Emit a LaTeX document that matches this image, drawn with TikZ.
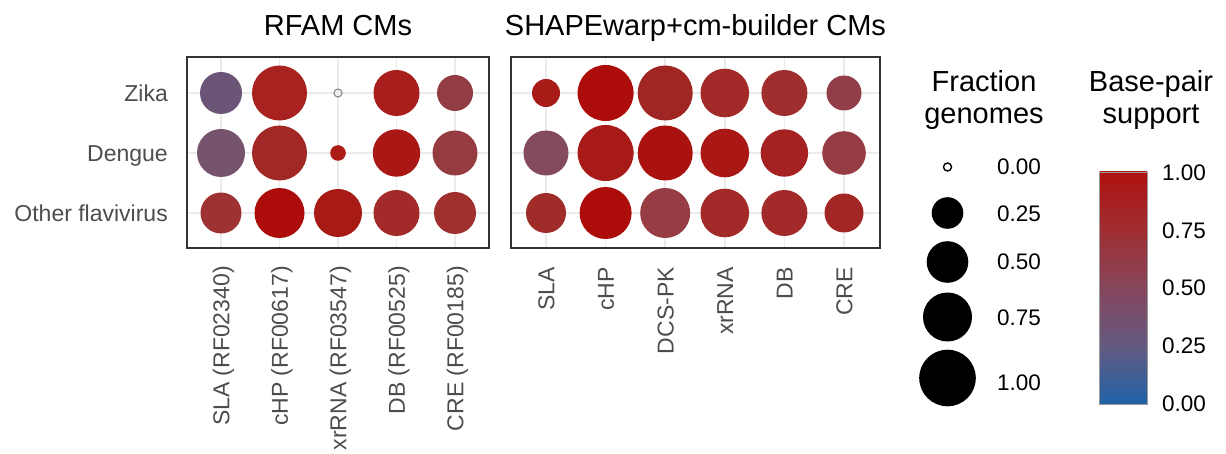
\documentclass[tikz,border=0pt]{standalone}
\usepackage{fontspec}
\setmainfont{Liberation Sans}
\definecolor{gridc}{HTML}{EBEBEB}
\definecolor{axtext}{HTML}{4D4D4D}
\definecolor{bordc}{HTML}{333333}
\definecolor{cbarb}{HTML}{9A9A9A}
\definecolor{cbz}{HTML}{1F63A8}
\definecolor{cbq}{HTML}{635A80}
\definecolor{cbh}{HTML}{86465C}
\definecolor{cbt}{HTML}{A02E32}
\definecolor{cbo}{HTML}{AE110E}
\pgfdeclareverticalshading{bpsupport}{100bp}{color(0bp)=(cbz); color(25bp)=(cbz); color(37.5bp)=(cbq); color(50bp)=(cbh); color(62.5bp)=(cbt); color(75bp)=(cbo); color(100bp)=(cbo)}
\newcommand\bubble[4]{\definecolor{bubc}{HTML}{#4}\fill[bubc] (#1,#2) circle[radius=#3pt];}
\tikzset{
  titletext/.style={font=\fontsize{29}{33}\selectfont, text=black, inner sep=0pt},
  axlab/.style={font=\fontsize{23}{27}\selectfont, text=axtext, inner sep=0pt},
  xlab/.style={axlab, rotate=90, anchor=base east},
  ylab/.style={axlab, anchor=base east},
  leglab/.style={font=\fontsize{22.5}{27}\selectfont, text=black, inner sep=0pt, anchor=base west},
  gridline/.style={draw=gridc, line width=1.6pt},
  panelborder/.style={draw=bordc, line width=1.3pt},
}
\begin{document}
\begin{tikzpicture}[x=1pt,y=-1pt]
\useasboundingbox (0,0) rectangle (1226,454);
% ---------- left panel ----------
\foreach \cx in {221,279.5,338,396.5,455} \draw[gridline] (\cx,57) -- (\cx,248);
\foreach \ry in {93,153,213} \draw[gridline] (187,\ry) -- (489,\ry);
% Zika
\bubble{221}{93}{21}{6B5577}
\bubble{279.5}{93}{27.5}{A82220}
\draw[draw=gray!90, line width=1.2pt] (338,93) circle[radius=4pt];
\bubble{396.5}{93}{23}{A81E1C}
\bubble{455}{93}{18}{923C44}
% Dengue
\bubble{221}{153}{24}{76546E}
\bubble{279.5}{153}{27.5}{A22826}
\bubble{338}{153}{7.8}{AC1B16}
\bubble{396.5}{153}{23.7}{AA1816}
\bubble{455}{153}{22.5}{953C40}
% Other
\bubble{221}{213}{20.5}{9E3232}
\bubble{279.5}{213}{25}{AC0C0A}
\bubble{338}{213}{24}{A81A16}
\bubble{396.5}{213}{23}{A22A28}
\bubble{455}{213}{21}{A0302E}
\draw[panelborder] (187,57) rectangle (489,248);
% ---------- right panel ----------
\foreach \cx in {546,605.6,665.2,724.8,784.4,844} \draw[gridline] (\cx,57) -- (\cx,248);
\foreach \ry in {93,153,213} \draw[gridline] (511,\ry) -- (880,\ry);
% Zika
\bubble{546}{93}{14}{A81C18}
\bubble{605.6}{93}{28}{AC0C0A}
\bubble{665.2}{93}{27.5}{A02624}
\bubble{724.8}{93}{24.3}{A22A28}
\bubble{784.4}{93}{23}{A02E2E}
\bubble{844}{93}{17.5}{923E48}
% Dengue
\bubble{546}{153}{22.5}{844A5E}
\bubble{605.6}{153}{28}{A81A18}
\bubble{665.2}{153}{27.5}{AA1210}
\bubble{724.8}{153}{24.3}{AA1816}
\bubble{784.4}{153}{23.7}{A62222}
\bubble{844}{153}{21.8}{963C44}
% Other
\bubble{546}{213}{20}{A02C2A}
\bubble{605.6}{213}{26}{AC0C0A}
\bubble{665.2}{213}{25}{963C42}
\bubble{724.8}{213}{24.3}{A22A28}
\bubble{784.4}{213}{23}{A22A28}
\bubble{844}{213}{19.5}{A22624}
\draw[panelborder] (511,57) rectangle (880,248);
% ---------- titles ----------
\node[titletext, anchor=base] (t1) at (338,36) {RFAM CMs};
\node[titletext, anchor=base] (t2) at (695.5,36) {SHAPEwarp+cm-builder CMs};
% ---------- y labels ----------
\node[ylab] (yz) at (168,101.3) {Zika};
\node[ylab] (yd) at (168,161.3) {Dengue};
\node[ylab] (yo) at (168,221.3) {Other flavivirus};
% ---------- x labels ----------
\node[xlab] (xl1) at (229.3,266) {SLA (RF02340)};
\node[xlab] (xl2) at (287.8,266) {cHP (RF00617)};
\node[xlab] (xl3) at (346.3,266) {xrRNA (RF03547)};
\node[xlab] (xl4) at (404.8,266) {DB (RF00525)};
\node[xlab] (xl5) at (463.3,266) {CRE (RF00185)};
\node[xlab] (xr1) at (554.3,267) {SLA};
\node[xlab] (xr2) at (613.9,267) {cHP};
\node[xlab] (xr3) at (673.5,267) {DCS-PK};
\node[xlab] (xr4) at (733.1,267) {xrRNA};
\node[xlab] (xr5) at (792.7,267) {DB};
\node[xlab] (xr6) at (852.3,267) {CRE};
% ---------- size legend ----------
\node[titletext, anchor=base] (lf1) at (984,92) {Fraction};
\node[titletext, anchor=base] (lf2) at (984,124) {genomes};
\draw[black, line width=1.4pt] (947.5,167) circle[radius=4pt];
\fill[black] (947.5,213) circle[radius=15.8pt];
\fill[black] (947.5,262) circle[radius=20.8pt];
\fill[black] (947.5,317) circle[radius=24.5pt];
\fill[black] (947.5,378) circle[radius=28.3pt];
\node[leglab] (s0) at (997,175) {0.00};
\node[leglab] (s1) at (997,222) {0.25};
\node[leglab] (s2) at (997,269.5) {0.50};
\node[leglab] (s3) at (997,326) {0.75};
\node[leglab] (s4) at (997,390) {1.00};
% ---------- colour legend ----------
\node[titletext, anchor=base] (lb1) at (1151,92) {Base-pair};
\node[titletext, anchor=base] (lb2) at (1151,124) {support};
\shade[shading=bpsupport, draw=cbarb, line width=0.7pt] (1099.5,172) rectangle (1147,404);
\node[leglab] (c4) at (1162,180.5) {1.00};
\node[leglab] (c3) at (1162,238.5) {0.75};
\node[leglab] (c2) at (1162,296) {0.50};
\node[leglab] (c1) at (1162,353.5) {0.25};
\node[leglab] (c0) at (1162,411) {0.00};
\end{tikzpicture}
\end{document}
